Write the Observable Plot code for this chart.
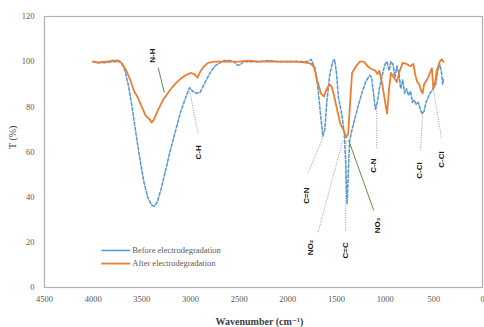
<!DOCTYPE html>
<html>
<head>
<meta charset="utf-8">
<script src="https://cdn.jsdelivr.net/npm/d3@7"></script>
<script src="https://cdn.jsdelivr.net/npm/@observablehq/plot@0.6"></script>
<style>
  html, body { margin: 0; padding: 0; background: #fff; }
  #chart svg { display: block; }
</style>
</head>
<body>
<div id="chart"></div>
<script>
// ---- Data ----
const wnBefore = [4000,3900,3800,3720,3680,3640,3600,3560,3520,3480,3440,3400,3370,3340,3300,3250,3200,3150,3100,3050,3010,2980,2940,2900,2860,2800,2750,2700,2650,2600,2550,2520,2490,2460,2400,2300,2200,2100,2000,1900,1800,1760,1720,1690,1660,1640,1620,1600,1570,1540,1520,1500,1480,1460,1440,1420,1405,1395,1390,1380,1365,1340,1310,1280,1240,1200,1160,1140,1120,1100,1080,1060,1040,1020,1000,980,960,940,920,900,880,860,840,820,800,780,760,740,720,700,680,660,640,620,600,580,560,540,520,500,480,460,440,420,410,400];
const tBefore = [100,99.5,100,100,97,90,80,68,57,47,40,36.5,36,38,44,53,62,70,78,84,88.5,87,86,86.5,90,95,98,99.5,100.5,100.5,100,98.5,98.5,100,100,100,100.5,100,100,100,100,101,97,88,75,67,70,82,94,100,101,95,84,80,75,68,55,40,37,50,65,70,75,80,86,91,94,93,86,79,82,88,92,96,99,100,96,100,99,93,98,95,88,92,86,88,85,87,82,83,81,82,79,77,78,82,84,86,87,89,90,96,99,95,90,92];

const wnAfter = [4000,3950,3900,3850,3800,3740,3700,3660,3620,3580,3540,3500,3460,3420,3400,3380,3340,3300,3270,3250,3200,3150,3100,3050,3000,2960,2930,2900,2870,2820,2750,2600,2500,2400,2300,2200,2100,2000,1900,1800,1760,1730,1700,1660,1630,1600,1570,1550,1520,1490,1460,1430,1400,1380,1360,1340,1300,1260,1220,1180,1150,1100,1080,1060,1030,1000,980,960,940,910,880,850,820,780,740,710,690,670,650,630,615,600,570,540,520,505,490,470,440,420,400];
const tAfter = [100,99.5,100,100,100.5,100.5,99,96,92,87,84,80,76,74.5,73,74,78,81.5,84,85,88,90.5,92.5,94,95,94.5,93,95.5,97.5,99.5,100,100,100,100.5,100,100,100,100,100,99.5,99,97.5,92,86,84.5,88,90,89,84,78,72.5,70,66.5,68,82,95,98,100,100,98,97,96,94.5,96,90,82,77,88,95,93,91,96,99.5,99,98,99,94,91,90,87,86,90,92,95,97,88,90,96,100,101,100];

const seriesNames = ["Before electrodegradation", "After electrodegradation"];
const seriesColors = ["#5b9bd5", "#ed7d31"];

// Band annotations: label, position (wavenumber, T%), leader line from/to, leader kind
const annLabels = ["N-H", "C-H", "C=N", "NO₂", "C=C", "NO₃", "C-N", "C-Cl", "C-Cl"];
const annWn     = [3393, 2922, 1804, 1763, 1405, 1077, 1117, 646, 420];
const annT      = [102.7, 59.8, 40.7, 17.7, 16.4, 27.5, 54, 51.8, 56.7];
const leadWn1   = [3332, 3014, 1640, 1435, 1405, 1374, 1087, 615, 503];
const leadT1    = [97.4, 88.1, 66.4, 65.1, 65.1, 65.1, 79.3, 77.1, 87.2];
const leadWn2   = [3270, 2922, 1794, 1692, 1405, 1117, 1087, 636, 420];
const leadT2    = [86.4, 68.2, 50.5, 23.9, 25.2, 34.1, 61.6, 60.7, 66];
const leadKind  = ["green", "dot", "dot", "dot", "dot", "green", "dot", "dot", "dot"];

// Legend placement (in data units, inside the plot area)
const legendT = [16.4, 10.6];
const legendWnStart = 3916, legendWnEnd = 3619, legendWnText = 3598;

const xTicks = [4500,4000,3500,3000,2500,2000,1500,1000,500,0];
const yTicks = [0,20,40,60,80,100,120];

// ---- Build tables ----
const before = wnBefore.map((w,i)=>({wn:w, t:tBefore[i]}));
const after = wnAfter.map((w,i)=>({wn:w, t:tAfter[i]}));
const anns = annLabels.map((l,i)=>({label:l, wn:annWn[i], t:annT[i]}));
const leads = annLabels.map((l,i)=>({x1:leadWn1[i], y1:leadT1[i], x2:leadWn2[i], y2:leadT2[i], kind:leadKind[i]}));
const legend = seriesNames.map((n,i)=>({name:n, t:legendT[i], color:seriesColors[i]}));

const serif = "'Liberation Serif', 'DejaVu Serif', serif";
const sans = "'Liberation Sans', Arial, sans-serif";

const chart = Plot.plot({
  width: 484,
  height: 327,
  marginLeft: 44,
  marginRight: 2,
  marginTop: 16,
  marginBottom: 40,
  style: {fontFamily: serif, fontSize: "8.5px", color: "#595959", background: "#fff"},
  x: {domain: [4500, 0], ticks: xTicks, tickFormat: d => String(d)},
  y: {domain: [0, 120], ticks: yTicks},
  marks: [
    Plot.frame({stroke: "#b0b0b0", strokeWidth: 1.2}),
    Plot.axisX({ticks: xTicks, tickSize: 0, tickPadding: 8, label: null, fill: "#595959", fontFamily: serif, fontSize: 8.5, tickFormat: d => String(d)}),
    Plot.axisY({ticks: yTicks, tickSize: 0, tickPadding: 10, label: null, fill: "#595959", fontFamily: serif, fontSize: 8.5}),
    Plot.text(["Wavenumber (cm⁻¹)"], {frameAnchor: "bottom", dy: 37, dx: -4, fontWeight: "bold", fontSize: 10, fill: "#404040", fontFamily: serif}),
    Plot.text(["T (%)"], {frameAnchor: "left", dx: -32, dy: -3, rotate: -90, fontSize: 10, fill: "#404040", fontFamily: serif}),
    // leaders
    Plot.link(leads.filter(d=>d.kind==="dot"), {x1:"x1", y1:"y1", x2:"x2", y2:"y2", stroke:"#8c8c8c", strokeWidth:0.9, strokeDasharray:"1,1.4"}),
    // spectra
    Plot.line(before, {x:"wn", y:"t", stroke: seriesColors[0], strokeWidth: 1.6, strokeDasharray: "3,2", curve: "linear"}),
    Plot.line(after, {x:"wn", y:"t", stroke: seriesColors[1], strokeWidth: 1.8, curve: "linear"}),
    Plot.link(leads.filter(d=>d.kind==="green"), {x1:"x1", y1:"y1", x2:"x2", y2:"y2", stroke:"#5f8f43", strokeWidth:1}),
    // annotation labels
    Plot.text(anns, {x:"wn", y:"t", text:"label", rotate:-90, fontSize: 8, fontWeight:"bold", fill:"#1a1a1a", fontFamily: sans}),
    // legend
    Plot.link(legend, {x1: () => legendWnStart, x2: () => legendWnEnd, y1:"t", y2:"t", stroke: d=>d.color, strokeWidth: d => d.name.startsWith("Before") ? 1.6 : 1.8, strokeDasharray: d => d.name.startsWith("Before") ? "3,2" : null}),
    Plot.text(legend, {x: () => legendWnText, y:"t", text:"name", textAnchor:"start", fontSize: 8.5, fill:"#595959", fontFamily: serif})
  ]
});
document.getElementById("chart").appendChild(chart);
</script>
</body>
</html>
